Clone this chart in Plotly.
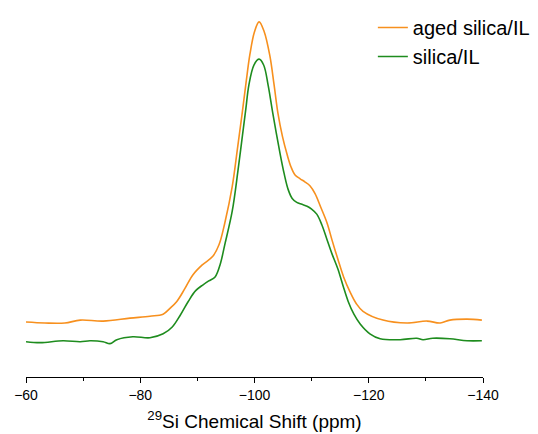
import plotly.graph_objects as go

# Aged silica/IL (orange)
aged_ppm = [-60.0, -63.3, -66.8, -69.5, -73.5, -78.2, -81.7, -84.0, -85.2, -86.4, -87.8, -89.2,
            -90.8, -92.7, -93.8, -94.8, -96.1, -97.0, -97.8, -98.5, -99.2, -100.0, -100.8,
            -101.7, -102.7, -103.4, -104.1, -104.9, -105.7, -106.4, -107.1, -108.0, -108.8,
            -109.7, -110.6, -111.6, -112.7, -113.6, -114.6, -115.6, -116.7, -117.8, -119.0,
            -122.5, -126.7, -130.2, -132.5, -134.2, -137.2, -139.8]
aged_int = [29, 28, 28, 31, 30, 33, 35, 37, 43, 50, 63, 77,
            87, 96, 108, 130, 167, 205, 240, 272, 302, 325, 335,
            325, 300, 272, 242, 218, 200, 187, 179, 175, 172,
            168, 160, 146, 130, 112, 93, 75, 60, 48, 40,
            31, 28, 30, 28, 31, 32, 31]

# Silica/IL (green)
fresh_ppm = [-60.0, -62.5, -66.5, -69.5, -71.2, -73.5, -74.7, -75.9, -78.7, -81.7, -84.0, -85.6,
             -87.0, -88.4, -89.7, -91.0, -92.0, -93.1, -94.0, -94.8, -96.1, -97.1, -97.8,
             -98.5, -99.0, -99.9, -100.8, -101.6, -102.4, -103.2, -104.5, -105.2, -105.9,
             -106.6, -107.4, -108.3, -109.2, -110.0, -110.9, -111.8, -112.7, -113.6, -114.6,
             -115.5, -116.4, -117.4, -118.5, -120.2, -122.0, -125.5, -128.4,
             -129.5, -131.2, -134.2, -137.2, -139.8]
fresh_int = [9, 8, 10, 9, 10, 9, 7, 11, 14, 13, 17, 24,
             36, 50, 61, 67, 71, 75, 88, 108, 142, 183, 215,
             247, 270, 291, 297, 291, 270, 242, 200, 180, 164,
             155, 151, 149, 147, 144, 139, 128, 113, 98, 83,
             66, 50, 37, 27, 17, 12, 11, 12.5,
             11, 12.5, 12, 10, 10]

x_ticks = [-60, -80, -100, -120, -140]
x_tick_text = ["\u221260", "\u221280", "\u2212100", "\u2212120", "\u2212140"]

fig = go.Figure()
fig.add_trace(go.Scatter(x=aged_ppm, y=aged_int, mode="lines", name="aged silica/IL",
                         line=dict(color="#F7901E", width=1.6, shape="spline", smoothing=1.0),
                         legendgroup="a"))
fig.add_trace(go.Scatter(x=fresh_ppm, y=fresh_int, mode="lines", name="silica/IL",
                         line=dict(color="#1E8C1E", width=1.6, shape="spline", smoothing=1.0),
                         legendgroup="b"))

fig.update_layout(
    width=538, height=434,
    margin=dict(l=18, r=63, t=0, b=65),
    paper_bgcolor="white", plot_bgcolor="white",
    font=dict(family="Arial, Liberation Sans, sans-serif", color="black"),
    showlegend=True,
    legend=dict(x=0.759, y=1.02, xanchor="left", yanchor="top",
                font=dict(size=20), tracegroupgap=0, itemwidth=30,
                bgcolor="rgba(0,0,0,0)"),
    xaxis=dict(range=[-60, -140], tickvals=x_ticks, ticktext=x_tick_text,
               showline=True, linecolor="black", linewidth=1.2, automargin=False,
               ticks="outside", ticklen=5, tickwidth=1.2, tickcolor="black",
               minor=dict(dtick=10, ticks="outside", ticklen=3, tickcolor="black", tickwidth=1),
               showgrid=False, zeroline=False, tickfont=dict(size=14),
               title=dict(text="<sup>29</sup>Si Chemical Shift (ppm)", font=dict(size=19), standoff=12)),
    yaxis=dict(range=[-27, 342], visible=False, showgrid=False, zeroline=False, automargin=False),
)

fig.write_html("out.html")
